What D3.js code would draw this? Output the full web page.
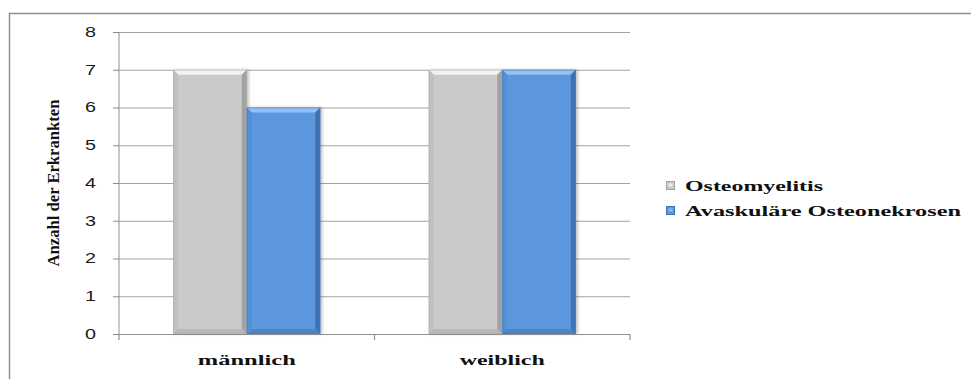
<!DOCTYPE html>
<html>
<head>
<meta charset="utf-8">
<script src="https://cdn.jsdelivr.net/npm/d3@7"></script>
<style>
  html, body { margin: 0; padding: 0; background: #fff; }
  svg { display: block; }
  .serif { font-family: "Liberation Serif", "Times New Roman", Times, "DejaVu Serif", serif; font-weight: bold; }
  .sans { font-family: "Liberation Sans", Arial, Helvetica, sans-serif; }
</style>
</head>
<body>
<svg id="chart" width="971" height="379"></svg>
<script>
// Patients per sex and diagnosis
const categories = ["männlich", "weiblich"];
const seriesNames = ["Osteomyelitis", "Avaskuläre Osteonekrosen"];
const osteomyelitis = [7, 7];
const osteonekrosen = [6, 7];
const yTicks = [0, 1, 2, 3, 4, 5, 6, 7, 8];
const yTitle = "Anzahl der Erkrankten";

const seriesValues = [osteomyelitis, osteonekrosen];

const svg = d3.select("#chart");
const W = 971, H = 379;

const plot = { left: 119, right: 630, top: 32, bottom: 334 };

const x0 = d3.scaleBand().domain(categories).range([plot.left, plot.right]).paddingInner(0).paddingOuter(0);
const x1 = d3.scaleBand().domain(seriesNames).range([0, x0.bandwidth()]).paddingInner(0).paddingOuter(0.738);
const y = d3.scaleLinear().domain([0, 8]).range([plot.bottom, plot.top]);

// per-series bevel palette: body, top, left, right, bottom
const palette = {
  "Osteomyelitis": { body: "#cacaca", top: "#f2f2f2", left: "#c0c0c0", right: "#a2a2a2", bottom: "#b8b8b8", edge: "#aaaaaa" },
  "Avaskuläre Osteonekrosen": { body: "#5b97de", top: "#90c3f2", left: "#5290d6", right: "#3f72b0", bottom: "#4c84c6", edge: "#4277b6" }
};

const defs = svg.append("defs");
const shadow = defs.append("filter").attr("id", "barShadow")
  .attr("x", "-20%").attr("y", "-5%").attr("width", "140%").attr("height", "110%");
shadow.append("feDropShadow").attr("dx", 2).attr("dy", 0).attr("stdDeviation", 1.6)
  .attr("flood-color", "#000").attr("flood-opacity", 0.25);

// Frame around the chart area
svg.append("path")
  .attr("d", `M9.5,${H} L9.5,13.5 L${W},13.5`)
  .attr("fill", "none").attr("stroke", "#8f8f8f").attr("stroke-width", 1.5);

// Horizontal gridlines
svg.append("g")
  .attr("transform", `translate(${plot.left},0)`)
  .call(d3.axisLeft(y).tickValues(yTicks).tickSize(-(plot.right - plot.left)).tickFormat(""))
  .call(g => g.select(".domain").remove())
  .call(g => g.selectAll("line").attr("stroke", "#a3a3a3").attr("stroke-width", 1));

// Y axis with labels
const yAxis = svg.append("g")
  .attr("transform", `translate(${plot.left},0)`)
  .call(d3.axisLeft(y).tickValues(yTicks).tickSize(6).tickPadding(17).tickFormat(d3.format("d")));
yAxis.attr("font-family", null).attr("font-size", null);
yAxis.select(".domain").attr("stroke", "#8f8f8f").attr("d", `M0,${plot.top}V${plot.bottom}`);
yAxis.selectAll(".tick line").attr("stroke", "#8f8f8f");
yAxis.selectAll(".tick text")
  .attr("class", "sans")
  .attr("fill", "#1a1a1a")
  .attr("font-size", 14)
  .attr("textLength", 11)
  .attr("lengthAdjust", "spacingAndGlyphs");

// Bars
const groups = svg.append("g").selectAll("g")
  .data(categories)
  .join("g")
  .attr("transform", d => `translate(${x0(d)},0)`);

const bars = groups.selectAll("g.bar")
  .data((c, i) => seriesNames.map((s, k) => ({ series: s, value: seriesValues[k][i] })))
  .join("g")
  .attr("class", "bar");

bars.each(function(d) {
  const g = d3.select(this);
  const p = palette[d.series];
  const bx = x1(d.series), bw = x1.bandwidth();
  const by = y(d.value), bh = y(0) - y(d.value);
  const b = 5;
  g.append("rect").attr("x", bx).attr("y", by).attr("width", bw).attr("height", bh)
    .attr("fill", p.body).attr("filter", "url(#barShadow)");
  const poly = (pts, fill) => g.append("polygon")
    .attr("points", pts.map(q => q.join(",")).join(" ")).attr("fill", fill);
  poly([[bx, by], [bx + bw, by], [bx + bw - b, by + b], [bx + b, by + b]], p.top);
  poly([[bx, by], [bx + b, by + b], [bx + b, by + bh - b], [bx, by + bh]], p.left);
  poly([[bx + bw, by], [bx + bw, by + bh], [bx + bw - b, by + bh - b], [bx + bw - b, by + b]], p.right);
  poly([[bx, by + bh], [bx + b, by + bh - b], [bx + bw - b, by + bh - b], [bx + bw, by + bh]], p.bottom);
  g.append("rect").attr("x", bx + 0.5).attr("y", by + 0.5).attr("width", bw - 1).attr("height", bh - 1)
    .attr("fill", "none").attr("stroke", p.edge).attr("stroke-width", 1).attr("stroke-opacity", 0.5);
});

// X axis baseline with ticks at category boundaries
const xAxis = svg.append("g").attr("transform", `translate(0,${plot.bottom})`);
xAxis.append("line").attr("x1", plot.left).attr("x2", plot.right).attr("y1", 0.5).attr("y2", 0.5)
  .attr("stroke", "#8f8f8f").attr("stroke-width", 1.2);
const boundaries = categories.map(c => x0(c)).concat([x0(categories[categories.length - 1]) + x0.bandwidth()]);
xAxis.selectAll("line.tk").data(boundaries).join("line").attr("class", "tk")
  .attr("x1", d => d).attr("x2", d => d).attr("y1", 0).attr("y2", 6)
  .attr("stroke", "#8f8f8f").attr("stroke-width", 1.2);

const catWidths = { "männlich": 98, "weiblich": 85 };
xAxis.selectAll("text").data(categories).join("text")
  .attr("class", "serif")
  .attr("x", d => x0(d) + x0.bandwidth() / 2)
  .attr("y", 31)
  .attr("text-anchor", "middle")
  .attr("fill", "#111")
  .attr("font-size", 15)
  .attr("textLength", d => catWidths[d])
  .attr("lengthAdjust", "spacingAndGlyphs")
  .text(d => d);

// Y axis title
svg.append("text")
  .attr("class", "serif")
  .attr("transform", `translate(59,183) rotate(-90)`)
  .attr("text-anchor", "middle")
  .attr("fill", "#111")
  .attr("font-size", 17)
  .attr("textLength", 167)
  .attr("lengthAdjust", "spacingAndGlyphs")
  .text(yTitle);

// Legend
const legendWidths = [138, 276];
const legend = svg.append("g").selectAll("g")
  .data(seriesNames)
  .join("g")
  .attr("transform", (d, i) => `translate(666,${181 + i * 25})`);
legend.append("rect").attr("x", 0.5).attr("y", 0.5).attr("width", 8).attr("height", 8)
  .attr("fill", d => palette[d].body).attr("stroke", d => palette[d].right).attr("stroke-width", 1);
legend.append("rect").attr("x", 2.5).attr("y", 2.5).attr("width", 4).attr("height", 3)
  .attr("fill", d => palette[d].top).attr("opacity", 0.8);
legend.append("text")
  .attr("class", "serif")
  .attr("x", 19).attr("y", 10)
  .attr("fill", "#111")
  .attr("font-size", 15)
  .attr("textLength", (d, i) => legendWidths[i])
  .attr("lengthAdjust", "spacingAndGlyphs")
  .text(d => d);
</script>
</body>
</html>
